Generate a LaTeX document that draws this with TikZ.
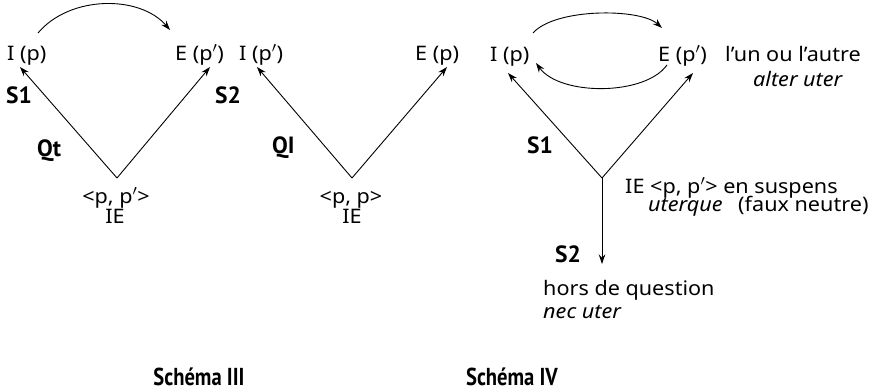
\documentclass[tikz,border=0pt]{standalone}
\usepackage{fontspec}
\setmainfont{Noto Sans}
\newfontfamily\boldfam{PT Sans}
\usetikzlibrary{arrows.meta}
\begin{document}
\begin{tikzpicture}[x=1pt,y=-1pt,
  lbl/.style={inner sep=0pt,anchor=base west,xscale=1.08,font=\fontsize{20}{22}\selectfont},
  clbl/.style={inner sep=0pt,anchor=base,xscale=1.08,font=\fontsize{20}{22}\selectfont},
  blbl/.style={inner sep=0pt,anchor=base west,font=\fontsize{23.5}{25}\selectfont\boldfam\bfseries},
  ttl/.style={inner sep=0pt,anchor=base,xscale=0.84,font=\fontsize{24.5}{26}\selectfont\boldfam\bfseries},
  arr/.style={line width=0.9pt,-{Stealth[length=9.5pt,width=6.5pt]}}]
\useasboundingbox (0,0) rectangle (880,391);
% ---------- Schema III (a)
\node[lbl] (Ia) at (7,60) {I (p)};
\node[lbl] (Ea) at (175,60) {E (p$'$)};
\node[clbl] (pa) at (116,203) {<p, p$'$>};
\node[clbl] (iea) at (115,223) {IE};
\coordinate (apa) at (117,178);
\coordinate (tIa) at (20,67);
\coordinate (tEa) at (210,67);
\coordinate (s1) at (38,33);
\coordinate (e1) at (170,30);
\draw[arr] (apa) -- (tIa);
\draw[arr] (apa) -- (tEa);
\draw[arr] (s1) .. controls (70,-5) and (140,-5) .. (e1);
\node[blbl] (S1a) at (6,103) {S1};
\node[blbl] (S2a) at (215,103) {S2};
\node[blbl] (Qt) at (37,156) {Qt};
% ---------- Schema III (b)
\node[lbl] (Ib) at (239,60) {I (p$'$)};
\node[lbl] (Eb) at (415,60) {E (p)};
\node[clbl] (pb) at (351,203) {<p, p>};
\node[clbl] (ieb) at (352,223) {IE};
\coordinate (apb) at (352,178);
\coordinate (tIb) at (257,67);
\coordinate (tEb) at (447,67);
\draw[arr] (apb) -- (tIb);
\draw[arr] (apb) -- (tEb);
\node[blbl] (QI) at (272,153) {QI};
% ---------- Schema IV
\node[lbl] (Ic) at (490,61) {I (p)};
\node[lbl] (Ec) at (658,61) {E (p$'$)};
\node[lbl] (un) at (725,61) {l’un ou l’autre};
\node[lbl] (alt) at (753,86) {\itshape alter uter};
\coordinate (apc) at (602,178);
\coordinate (tIc) at (508,73);
\coordinate (tEc) at (693,73);
\coordinate (tDc) at (602,264);
\draw[arr] (apc) -- (tIc);
\draw[arr] (apc) -- (tEc);
\draw[arr] (apc) -- (tDc);
\coordinate (s2) at (533,33);
\coordinate (e2) at (662,28);
\coordinate (s3) at (667,65);
\coordinate (e3) at (536,63);
\draw[arr] (s2) .. controls (555,8) and (640,8) .. (e2);
\draw[arr] (s3) .. controls (645,96) and (560,96) .. (e3);
\node[blbl] (S1c) at (527,153) {S1};
\node[lbl] (iec) at (625,193) {IE <p, p$'$> en suspens};
\node[lbl] (ut) at (648,211) {\itshape uterque};
\node[lbl] (fn) at (738,211) {(faux neutre)};
\node[blbl] (S2c) at (555,262) {S2};
\node[lbl] (hq) at (543,295) {hors de question};
\node[lbl] (nu) at (543,318) {\itshape nec uter};
% ---------- titles
\node[ttl] (t3) at (199,385) {Schéma III};
\node[ttl] (t4) at (512,385) {Schéma IV};
\end{tikzpicture}
\end{document}
